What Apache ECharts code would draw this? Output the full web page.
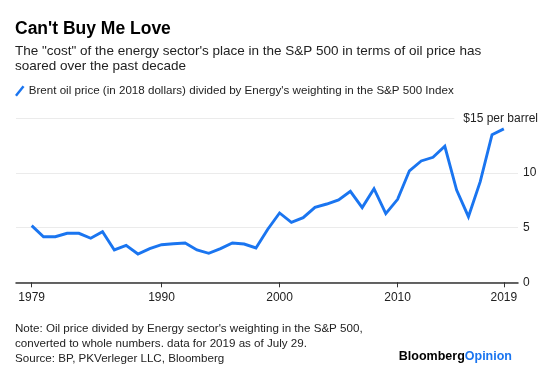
<!DOCTYPE html>
<html><head><meta charset="utf-8">
<script src="https://cdn.jsdelivr.net/npm/echarts@6/dist/echarts.min.js"></script>
<style>html,body{margin:0;padding:0;background:#fff}#c{width:560px;height:370px}</style>
</head><body><div id="c"></div>
<script>
const years = [1979,1980,1981,1982,1983,1984,1985,1986,1987,1988,1989,1990,1991,1992,1993,1994,1995,1996,1997,1998,1999,2000,2001,2002,2003,2004,2005,2006,2007,2008,2009,2010,2011,2012,2013,2014,2015,2016,2017,2018,2019];
const values = [5.18,4.17,4.17,4.48,4.48,4.03,4.63,2.96,3.38,2.59,3.08,3.44,3.53,3.60,2.96,2.65,3.08,3.60,3.50,3.14,4.85,6.34,5.49,5.91,6.86,7.16,7.53,8.32,6.83,8.56,6.28,7.59,10.2,11.1,11.43,12.44,8.44,6.0,9.2,13.5,14.03];
const xTicks = [1979,1990,2000,2010,2019];
const yTicks = [0,5,10,15];
const seriesName = "Brent oil price (in 2018 dollars) divided by Energy's weighting in the S&P 500 Index";
const FONT = "'Liberation Sans', Arial, sans-serif";
const BLUE = '#1a75f0';

const chart = echarts.init(document.getElementById('c'), null, {renderer:'canvas'});
chart.setOption({
  animation:false,
  backgroundColor:'#fff',
  title:[
    {text:"Can't Buy Me Love", left:15, top:20, padding:0, textStyle:{fontFamily:FONT,fontSize:17.5,fontWeight:'bold',color:'#000'}},
    {text:'The "cost" of the energy sector\'s place in the S&P 500 in terms of oil price has\nsoared over the past decade', left:15, top:44, padding:0, textStyle:{fontFamily:FONT,fontSize:13.5,fontWeight:'normal',color:'#222',lineHeight:15}},
    {text:"Note: Oil price divided by Energy sector's weighting in the S&P 500,\nconverted to whole numbers. data for 2019 as of July 29.\nSource: BP, PKVerleger LLC, Bloomberg", left:15, top:321, padding:0, textStyle:{fontFamily:FONT,fontSize:11.6,fontWeight:'normal',color:'#222',lineHeight:15}},
    {text:'{a|Bloomberg}{b|Opinion}', right:48, top:350, padding:0, textStyle:{rich:{a:{fontFamily:FONT,fontSize:12.5,fontWeight:'bold',color:'#000'},b:{fontFamily:FONT,fontSize:12.5,fontWeight:'bold',color:BLUE}}}}
  ],
  legend:{
    left:15, top:85, padding:0, itemWidth:10, itemHeight:11, itemGap:4,
    icon:'path://M0,10 L8,0 L10,1.6 L2,11.6 Z',
    textStyle:{fontFamily:FONT,fontSize:11.6,color:'#222',padding:[0,0,0,-1]},
    data:[seriesName]
  },
  grid:{left:16, right:42, top:118.3, bottom:87.7, containLabel:false},
  xAxis:{
    type:'value', min:1977.67, max:2020.2,
    axisLine:{show:true,lineStyle:{color:'#333',width:1.5}},
    axisTick:{show:true,customValues:xTicks,length:5,lineStyle:{color:'#333',width:1}},
    axisLabel:{customValues:xTicks,formatter:v=>String(v),fontFamily:FONT,fontSize:12,color:'#222',margin:9},
    splitLine:{show:false}
  },
  yAxis:{
    type:'value', position:'right', min:0, max:15, interval:5,
    axisLine:{show:false}, axisTick:{show:false},
    axisLabel:{formatter:v=> v===15 ? '' : String(v), fontFamily:FONT,fontSize:12,color:'#222',margin:5,align:'left'},
    splitLine:{show:true,lineStyle:{color:'#ebebeb',width:1}}
  },
  series:[{
    name:seriesName, type:'line', data:years.map((y,i)=>[y,values[i]]),
    showSymbol:false, symbol:'none',
    lineStyle:{color:BLUE,width:2.9,join:'miter'}, itemStyle:{color:BLUE}
  }]
});
const p = chart.convertToPixel({gridIndex:0},[2020.2,yTicks[3]]);
chart.setOption({graphic:[{
  type:'text', right:22, y:p[1], z:100,
  style:{text:'$15 per barrel', font:'12px '+FONT, fill:'#222', verticalAlign:'middle', backgroundColor:'#fff', padding:[2,0,2,9]}
}]});
</script></body></html>
